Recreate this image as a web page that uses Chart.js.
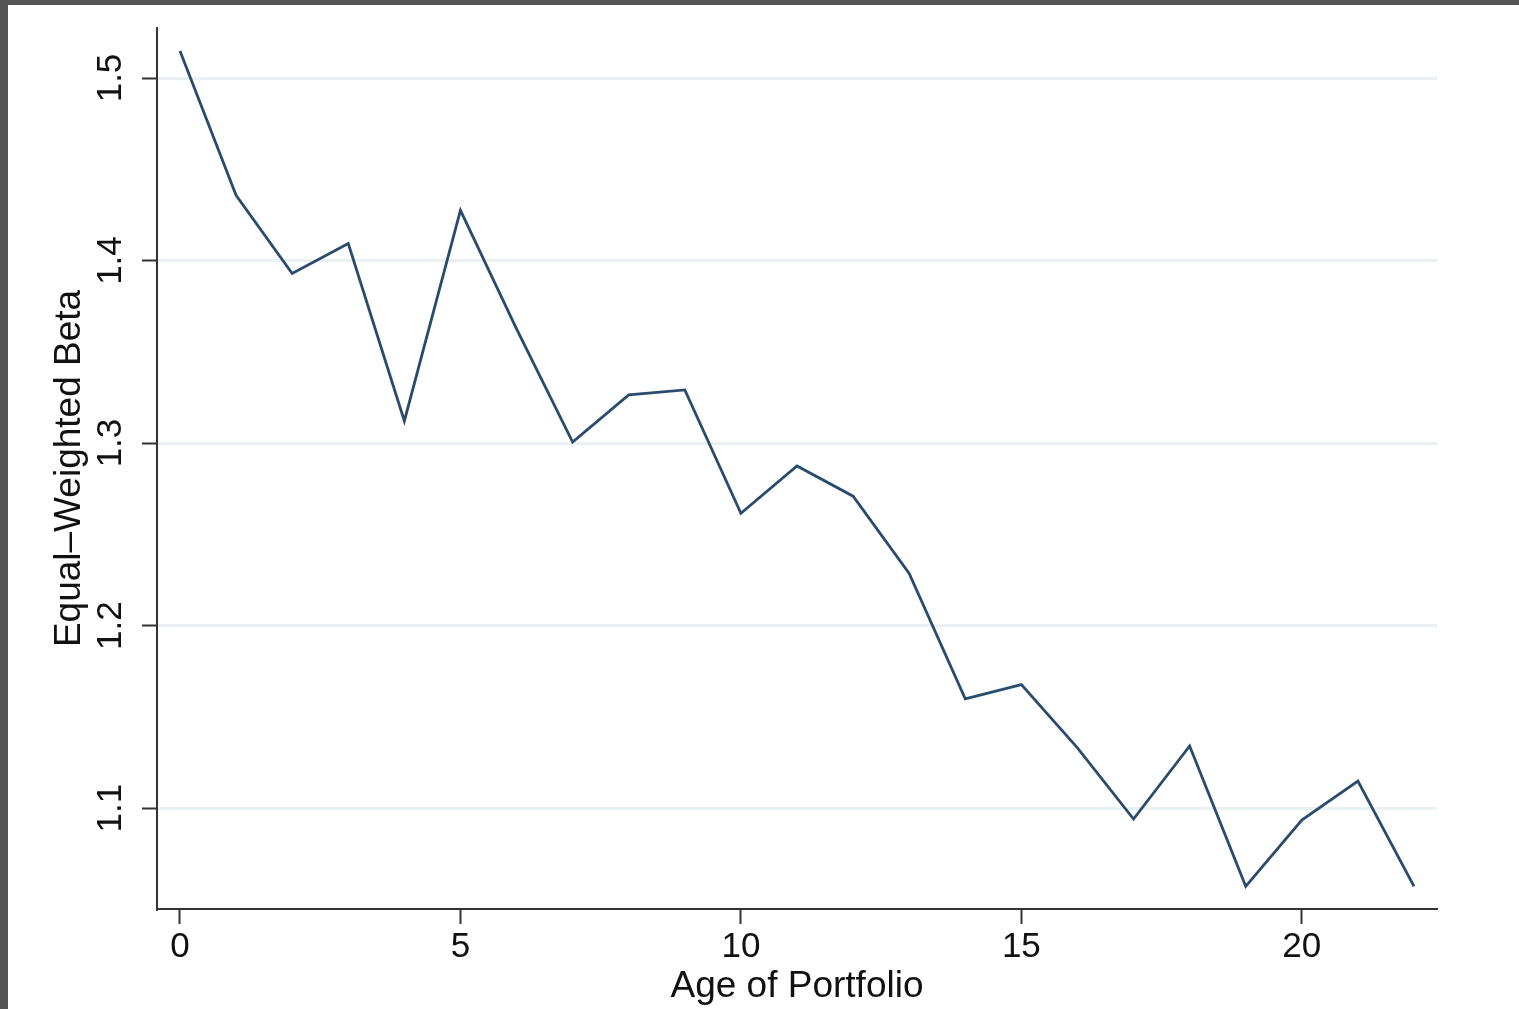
<!DOCTYPE html>
<html>
<head>
<meta charset="utf-8">
<script src="https://cdn.jsdelivr.net/npm/chart.js@4.4.1/dist/chart.umd.min.js"></script>
<style>
  html, body { margin: 0; padding: 0; background: #555555; width: 1519px; height: 1009px; overflow: hidden; }
  #wrap { position: absolute; left: 8px; top: 5px; width: 1511px; height: 1004px; background: #ffffff; }
  canvas { display: block; }
</style>
</head>
<body>
<div id="wrap"><canvas id="c" width="1511" height="1004"></canvas></div>
<script>
const ages = [0,1,2,3,4,5,6,7,8,9,10,11,12,13,14,15,16,17,18,19,20,21,22];
const betaValues = [1.5148,1.4357,1.3929,1.4093,1.3121,1.4275,1.3626,1.3005,1.3264,1.3291,1.2615,1.2874,1.2709,1.2286,1.1599,1.1676,1.1330,1.0940,1.1340,1.0571,1.0934,1.1148,1.0571];
const xTickValues = [0,5,10,15,20];
const yTickValues = [1.1,1.2,1.3,1.4,1.5];
const xTitle = 'Age of Portfolio';
const yTitle = 'Equal–Weighted Beta';

const FONT = "'Liberation Sans', Arial, Helvetica, sans-serif";

const rotatedYLabels = {
  id: 'rotatedYLabels',
  afterDraw(chart) {
    const ys = chart.scales.y;
    const ctx = chart.ctx;
    ctx.save();
    ctx.fillStyle = '#111111';
    ctx.font = '35px ' + FONT;
    ctx.textAlign = 'center';
    ctx.textBaseline = 'middle';
    yTickValues.forEach(v => {
      const py = ys.getPixelForValue(v);
      ctx.save();
      ctx.translate(103, py);
      ctx.rotate(-Math.PI / 2);
      ctx.fillText(v.toFixed(1), 0, 0);
      ctx.restore();
    });
    ctx.restore();
  }
};

new Chart(document.getElementById('c'), {
  type: 'line',
  data: {
    datasets: [{
      data: ages.map((a, i) => ({ x: a, y: betaValues[i] })),
      borderColor: '#2a4b6c',
      borderWidth: 2.8,
      pointRadius: 0,
      tension: 0,
      fill: false
    }]
  },
  options: {
    responsive: false,
    animation: false,
    layout: { padding: { left: 0, top: 23, right: 82, bottom: 0 } },
    plugins: { legend: { display: false }, tooltip: { enabled: false } },
    scales: {
      x: {
        type: 'linear',
        min: -0.41,
        max: 22.41,
        afterBuildTicks: s => { s.ticks = xTickValues.map(v => ({ value: v })); },
        afterFit: s => { s.height = 100; },
        ticks: { font: { size: 35, family: FONT }, color: '#111111', padding: 2, maxRotation: 0, autoSkip: false },
        grid: { drawOnChartArea: false, tickLength: 15, tickColor: '#333333', tickWidth: 2 },
        border: { color: '#333333', width: 2 },
        title: { display: true, text: xTitle, font: { size: 37, family: FONT }, color: '#111111', padding: { top: 0, bottom: 0 } }
      },
      y: {
        type: 'linear',
        min: 1.0447,
        max: 1.5274,
        afterBuildTicks: s => { s.ticks = yTickValues.map(v => ({ value: v })); },
        afterFit: s => { s.width = 149; },
        ticks: { display: false },
        grid: { color: '#eaf1f3', lineWidth: 3, tickLength: 15, tickColor: '#333333', tickWidth: 2 },
        border: { color: '#333333', width: 2 },
        title: { display: true, text: yTitle, font: { size: 37, family: FONT }, color: '#111111', padding: { top: 40, bottom: 0 } }
      }
    }
  },
  plugins: [rotatedYLabels]
});
</script>
</body>
</html>
